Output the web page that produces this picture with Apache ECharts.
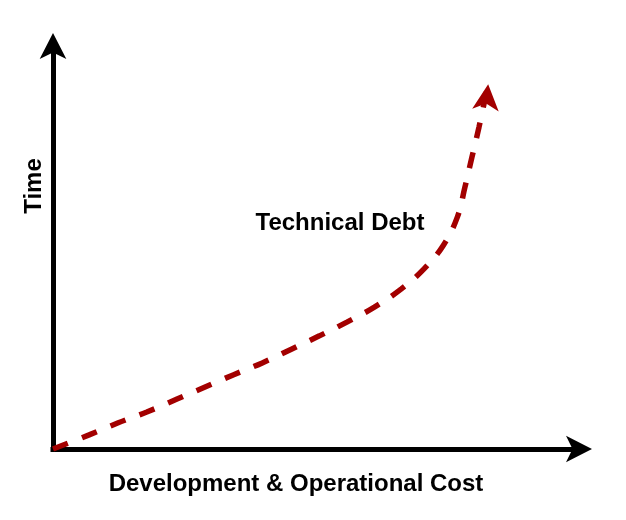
<!DOCTYPE html>
<html>
<head>
<meta charset="utf-8">
<script src="https://cdn.jsdelivr.net/npm/echarts@6/dist/echarts.min.js"></script>
<style>
html,body{margin:0;padding:0;background:#fff;}
#chart{width:626px;height:520px;}
</style>
</head>
<body>
<div id="chart"></div>
<script>
// Curve (Technical Debt), in axis units
const curveX = [0, 6.7, 12.1, 17.4, 23.0, 28.2, 33.4, 38.8, 44.2, 49.4, 54.5, 59.6, 64.6, 68.8, 72.4, 75.0, 76.4, 77.7, 79.0, 80.7];
const curveY = [0, 3.4, 6.3, 8.9, 12.0, 14.9, 17.8, 20.7, 24.0, 27.2, 30.5, 34.1, 38.5, 43.3, 49.0, 55.8, 63.0, 70.2, 77.4, 87.7];
const xMax = 98.1;
const yMax = 97.6;
const xTitle = 'Development & Operational Cost';
const yTitle = 'Time';
const curveLabel = 'Technical Debt';

const FONT = '"Liberation Sans", Arial, Helvetica, sans-serif';
const RED = '#a30000';

const data = curveX.map((x, i) => {
  const last = i === curveX.length - 1;
  return last
    ? { value: [x, curveY[i]], symbol: 'arrow', symbolSize: [20, 26], symbolRotate: -6 }
    : { value: [x, curveY[i]], symbol: 'none' };
});

function axis(max) {
  return {
    type: 'value', min: 0, max: max,
    splitLine: { show: false }, axisTick: { show: false }, axisLabel: { show: false },
    axisLine: { show: true, symbol: ['none', 'arrow'], symbolSize: [20, 26], symbolOffset: [0, 10],
      lineStyle: { color: '#000', width: 5, cap: 'square' } }
  };
}

const chart = echarts.init(document.getElementById('chart'), null, { renderer: 'canvas' });
chart.setOption({
  animation: false,
  backgroundColor: '#fff',
  grid: { left: 53, right: 44, top: 43, bottom: 71 },
  xAxis: axis(xMax),
  yAxis: axis(yMax),
  series: [{
    type: 'line',
    data: data,
    smooth: 0.4,
    showSymbol: true,
    itemStyle: { color: RED },
    lineStyle: { color: RED, width: 5.5, type: [16, 15], cap: 'butt' },
    z: 5
  }],
  graphic: [
    { type: 'text', x: 296, y: 484, style: { text: xTitle, fill: '#000', font: 'bold 24px ' + FONT, align: 'center', verticalAlign: 'middle' } },
    { type: 'text', x: 34, y: 186, rotation: Math.PI / 2, style: { text: yTitle, fill: '#000', font: 'bold 24px ' + FONT, align: 'center', verticalAlign: 'middle' } },
    { type: 'text', x: 340, y: 223, style: { text: curveLabel, fill: '#000', font: 'bold 24px ' + FONT, align: 'center', verticalAlign: 'middle' } }
  ]
});
</script>
</body>
</html>
